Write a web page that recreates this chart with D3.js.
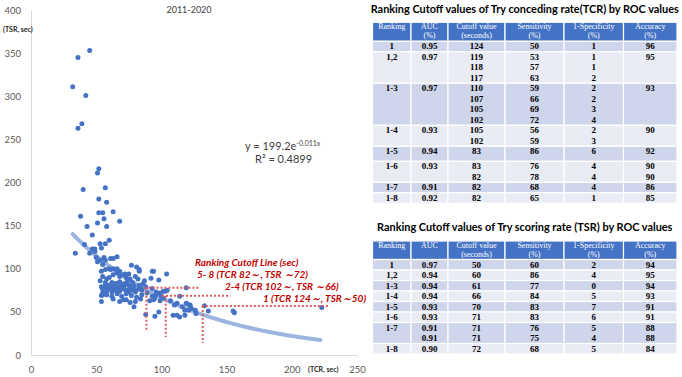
<!DOCTYPE html>
<html>
<head>
<meta charset="utf-8">
<script src="https://cdn.jsdelivr.net/npm/d3@7"></script>
<style>
  body { margin: 0; background: #fff; }
  svg { display: block; }
</style>
</head>
<body>
<div id="chart"></div>
<script>
// Scatter: each point is [TCR sec, TSR sec].
var points = [
  [45,353],[36,345],[32,311],[42,301],[39,268],[36,263],
  [52,216],[51,211],[57,194],[40,192],[52,181],[58,177],
  [52,165],[55,165],[63,166],[38,161],[56,158],[51,153],[68,155],[43,149],[58,149],
  [47,139],[60,133],[41,128],[53,129],[57,129],[54,124],[47,123],[49,123],[49,120],[45,118],[34,118],
  [50,113],[56,113],[61,112],[63,112],[66,114],[53,110],[57,110],[51,108],[55,105],
  [77,104],[81,102],[83,97],[94,97],[54,97],[57,99],[60,100],[63,100],[66,97],[68,94],[72,94],[75,94],
  [61,99],[66,100],[68,97],[83,99],[93,97],[104,94],
  [55,91],[58,88],[60,90],[63,93],[66,95],[68,91],[71,93],[73,90],[76,88],[80,91],[82,88],[87,86],[92,89],[98,87],[119,78],
  [57,84],[57.5,79],[62,84],[65,83],[68,85],[72,83],[75,81],[78,84],[83,81],[86,83],[56,79],[60,77],[63,75],[67,79],[70,77],
  [74,75],[78,77],[81.5,76],[85,75],[88,79],
  [59,81],[61,79],[64,80],[66,77],[69,80],[71,79],[73,82],[76,79],[77,75],[79,80],[62,73],[65,76],[68,74],[72,76],[75,73],
  [80,73],[84,78],[58,74],[70,82],[74,86],[54,79],[55,76],[54,69],[53,86],
  [55,72],[58,70],[62,68],[66,71],[69.5,68],[73,71],[77,69],[81,67],[85,70],[89,72],[93,68],[96,70],[99,72],[101.5,74],[104.5,75],
  [54,62],[63,65],[68,62],[71,64],[76,61],[80,62],[84,65],[91,63],[95,66],[99,63],[107,63],[112,60],[114,68],[119,60],[122,58],[126,52],
  [79,56],[73,64],[55,70],[100,68],[103,74],[101.5,66],[94,64],[93,77],[96,73],
  [88,47],[95,45],[98,50],[109,46],[112,46],[114,44],[118,46],[110,58],[116,56],[118,52],[120,59],[122,57],[123,54],[121,52],
  [126.5,48],[133,57],[136,51],[155,51],[156,49],[223,55]
];

// Exponential trendline as printed on the chart: y = 199.2e^(-0.011x)
var trendA = 199.2, trendK = -0.011, trendSpan = [32, 222];
var trendLabel = "y = 199.2e", trendPower = "-0.011x", rSquared = "R\u00b2 = 0.4899";

// Red dotted cutoff guides (data units): horizontal at tsr from x0..x1, vertical at tcr down to tsrEnd
var cutoffs = [
  {tsr: 78, x0: 87, x1: 129, tcr: 88.5, tsrEnd: 29},
  {tsr: 68.8, x0: 100.5, x1: 153, tcr: 103.3, tsrEnd: 21},
  {tsr: 56.8, x0: 131, x1: 228, tcr: 131.7, tsrEnd: 14}
];
var cutoffNotes = [
  "Ranking Cutoff Line (sec)",
  "5- 8 (TCR 82\uff5e, TSR \uff5e72)",
  "2-4  (TCR 102\uff5e, TSR \uff5e66)",
  "1  (TCR 124\uff5e, TSR\uff5e50)"
];

var xTicks = [0, 50, 100, 150, 200, 250];
var yTicks = [0, 50, 100, 150, 200, 250, 300, 350, 400];

// ROC tables
var tcrTitle = "Ranking Cutoff values of Try conceding rate(TCR) by ROC values";
var tcrHeader = [["Ranking"], ["AUC", "(%)"], ["Cutoff  value", "(seconds)"], ["Sensitivity", "(%)"], ["1-Specificity", "(%)"], ["Accuracy", "(%)"]];
var tcrRows = [
  [["1"], ["0.95"], ["124"], ["50"], ["1"], ["96"]],
  [["1,2"], ["0.97"], ["119", "118", "117"], ["53", "57", "63"], ["1", "1", "2"], ["95"]],
  [["1-3"], ["0.97"], ["110", "107", "105", "102"], ["59", "66", "69", "72"], ["2", "2", "3", "4"], ["93"]],
  [["1-4"], ["0.93"], ["105", "102"], ["56", "59"], ["2", "3"], ["90"]],
  [["1-5"], ["0.94"], ["83"], ["86"], ["6"], ["92"]],
  [["1-6"], ["0.93"], ["83", "82"], ["76", "78"], ["4", "4"], ["90", "90"]],
  [["1-7"], ["0.91"], ["82"], ["68"], ["4"], ["86"]],
  [["1-8"], ["0.92"], ["82"], ["65"], ["1"], ["85"]]
];

var tsrTitle = "Ranking Cutoff values of Try scoring rate (TSR) by ROC values";
var tsrHeader = [["Ranking"], ["AUC"], ["Cutoff value", "(seconds)"], ["Sensitivity", "(%)"], ["1-Specificity", "(%)"], ["Accuracy", "(%)"]];
var tsrRows = [
  [["1"], ["0.97"], ["50"], ["60"], ["2"], ["94"]],
  [["1,2"], ["0.94"], ["60"], ["86"], ["4"], ["95"]],
  [["1-3"], ["0.94"], ["61"], ["77"], ["0"], ["94"]],
  [["1-4"], ["0.94"], ["66"], ["84"], ["5"], ["93"]],
  [["1-5"], ["0.93"], ["70"], ["83"], ["7"], ["91"]],
  [["1-6"], ["0.93"], ["71"], ["83"], ["6"], ["91"]],
  [["1-7"], ["0.91", "0.91"], ["71", "71"], ["76", "75"], ["5", "4"], ["88", "88"]],
  [["1-8"], ["0.90"], ["72"], ["68"], ["5"], ["84"]]
];

var W = 682, H = 377;
var sans = "Lato, 'Open Sans', sans-serif";
var serif = "'Liberation Serif', 'Times New Roman', serif";

var svg = d3.select("#chart").append("svg")
    .attr("width", W)
    .attr("height", H);

svg.append("rect").attr("width", W).attr("height", H).attr("fill", "#fff");

// ---------- scatter plot ----------
var xScale = d3.scaleLinear().domain([0, 250]).range([31, 357]);
var yScale = d3.scaleLinear().domain([0, 400]).range([355, 10]);

var styleAxis = function(g) {
    g.select(".domain").attr("stroke", "#d9d9d9").attr("stroke-width", 1);
    g.selectAll("text")
     .attr("fill", "#595959")
     .style("font-family", sans)
     .style("font-size", "9.5px");
};

svg.append("g")
   .attr("transform", "translate(0," + yScale(0) + ")")
   .call(d3.axisBottom(xScale).tickValues(xTicks).tickSize(0).tickSizeOuter(0).tickPadding(11))
   .call(styleAxis);

svg.append("g")
   .attr("transform", "translate(" + xScale(0) + ",0)")
   .call(d3.axisLeft(yScale).tickValues(yTicks).tickSize(0).tickSizeOuter(0).tickPadding(10))
   .call(styleAxis);

svg.append("text")
   .attr("x", 189).attr("y", 13)
   .attr("text-anchor", "middle")
   .attr("fill", "#404040")
   .style("font-family", sans).style("font-size", "9px")
   .text("2011\u20102020");

svg.append("text")
   .attr("x", 3).attr("y", 32)
   .attr("fill", "#262626")
   .style("font-family", sans).style("font-size", "7px").style("font-weight", "bold")
   .text("(TSR, sec)");

svg.append("text")
   .attr("x", 308).attr("y", 372)
   .attr("fill", "#262626")
   .style("font-family", sans).style("font-size", "7px").style("font-weight", "bold")
   .text("(TCR, sec)");

// trendline sampled from the printed fit
var trendLine = d3.line()
    .x(function(d) { return xScale(d); })
    .y(function(d) { return yScale(trendA * Math.exp(trendK * d)); })
    .curve(d3.curveBasis);

svg.append("path")
   .datum(d3.range(trendSpan[0], trendSpan[1] + 0.1, 2))
   .attr("d", trendLine)
   .attr("fill", "none")
   .attr("stroke", "#9db4e0")
   .attr("stroke-width", 4)
   .attr("stroke-linecap", "round");

svg.append("g")
   .selectAll("circle")
   .data(points)
   .enter().append("circle")
   .attr("cx", function(d) { return xScale(d[0]); })
   .attr("cy", function(d) { return yScale(d[1]); })
   .attr("r", 2.5)
   .attr("fill", "#4472c4");

var guides = svg.append("g")
   .attr("stroke", "#e05a5f")
   .attr("stroke-width", 2)
   .attr("stroke-dasharray", "2,2");

guides.selectAll(".h")
   .data(cutoffs)
   .enter().append("line")
   .attr("class", "h")
   .attr("x1", function(d) { return xScale(d.x0); })
   .attr("x2", function(d) { return xScale(d.x1); })
   .attr("y1", function(d) { return yScale(d.tsr); })
   .attr("y2", function(d) { return yScale(d.tsr); });

guides.selectAll(".v")
   .data(cutoffs)
   .enter().append("line")
   .attr("class", "v")
   .attr("x1", function(d) { return xScale(d.tcr); })
   .attr("x2", function(d) { return xScale(d.tcr); })
   .attr("y1", function(d) { return yScale(d.tsr); })
   .attr("y2", function(d) { return yScale(d.tsrEnd); });

// note lines are staggered to the right like the original
var noteX = [195, 197, 225, 263], noteY = [266, 278, 290, 302];
svg.append("g")
   .selectAll("text")
   .data(cutoffNotes)
   .enter().append("text")
   .attr("x", function(d, i) { return noteX[i]; })
   .attr("y", function(d, i) { return noteY[i]; })
   .attr("fill", "#c00000")
   .style("font-family", sans)
   .style("font-size", "10px")
   .style("font-style", "italic")
   .style("font-weight", "bold")
   .text(function(d) { return d; });

var eq = svg.append("text")
   .attr("x", 245).attr("y", 150)
   .attr("fill", "#404040")
   .style("font-family", sans).style("font-size", "11px");
eq.append("tspan").text(trendLabel);
eq.append("tspan").attr("dy", -4).style("font-size", "7px").text(trendPower);

svg.append("text")
   .attr("x", 255).attr("y", 163)
   .attr("fill", "#404040")
   .style("font-family", sans).style("font-size", "11px")
   .text(rSquared);

// ---------- tables ----------
var colEdges = [372.5, 411, 448, 505, 564, 623.5, 677];
var lineH = 10.5;

var drawTable = function(title, titleY, header, rows, top, headH, extra) {
    var g = svg.append("g");

    g.append("text")
     .attr("x", (colEdges[0] + colEdges[6]) / 2).attr("y", titleY)
     .attr("text-anchor", "middle")
     .attr("fill", "#000")
     .style("font-family", sans).style("font-size", "10.9px").style("font-weight", "bold")
     .text(title);

    // header
    header.forEach(function(cell, c) {
        g.append("rect")
         .attr("x", colEdges[c]).attr("y", top)
         .attr("width", colEdges[c + 1] - colEdges[c]).attr("height", headH)
         .attr("fill", "#4472c4").attr("stroke", "#fff").attr("stroke-width", 1.2);
        cell.forEach(function(t, k) {
            g.append("text")
             .attr("x", (colEdges[c] + colEdges[c + 1]) / 2)
             .attr("y", top + 7 + k * 8.8)
             .attr("text-anchor", "middle")
             .attr("fill", "#fff")
             .style("font-family", serif).style("font-size", "8px")
             .text(t);
        });
    });

    var y = top + headH;
    rows.forEach(function(row, r) {
        var n = d3.max(row, function(cell) { return cell.length; });
        var h = n * lineH + (extra[r] || 0);
        row.forEach(function(cell, c) {
            g.append("rect")
             .attr("x", colEdges[c]).attr("y", y)
             .attr("width", colEdges[c + 1] - colEdges[c]).attr("height", h)
             .attr("fill", r % 2 === 0 ? "#cfd5ea" : "#e9ebf5")
             .attr("stroke", "#fff").attr("stroke-width", 1.2);
            cell.forEach(function(t, k) {
                g.append("text")
                 .attr("x", (colEdges[c] + colEdges[c + 1]) / 2)
                 .attr("y", y + 8 + k * lineH)
                 .attr("text-anchor", "middle")
                 .attr("fill", "#000")
                 .style("font-family", serif).style("font-size", "9px").style("font-weight", "bold")
                 .text(t);
            });
        });
        y += h;
    });
};

drawTable(tcrTitle, 13, tcrHeader, tcrRows, 22.3, 19, {4: 4.5});
drawTable(tsrTitle, 231, tsrHeader, tsrRows, 241, 18.5, {});
</script>
</body>
</html>
